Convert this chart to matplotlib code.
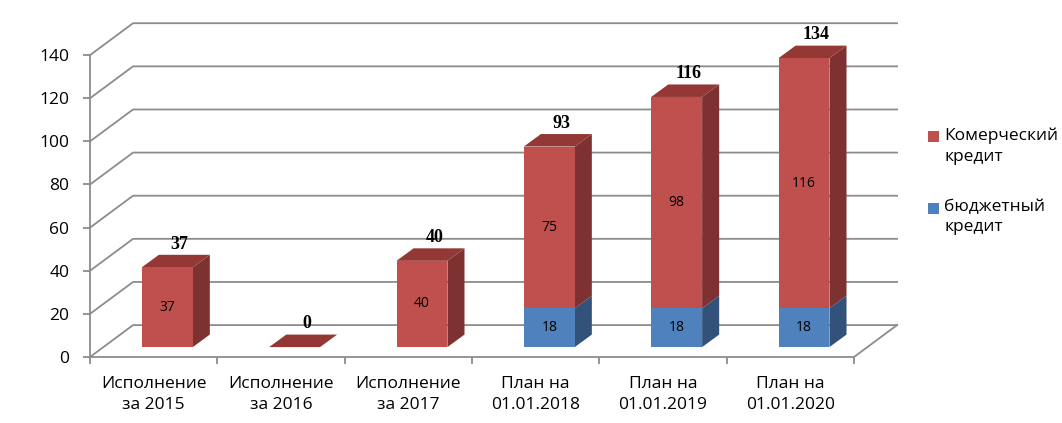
import matplotlib.pyplot as plt
from matplotlib.patches import Polygon, Rectangle

plt.rcParams['font.family'] = ['Open Sans', 'DejaVu Sans']

categories = ['Исполнение\nза 2015', 'Исполнение\nза 2016', 'Исполнение\nза 2017',
              'План на\n01.01.2018', 'План на\n01.01.2019', 'План на\n01.01.2020']
budget = [0, 0, 0, 18, 18, 18]
commercial = [37, 0, 40, 75, 98, 116]
series_names = ['Комерческий\nкредит', 'бюджетный\nкредит']

# colours (front, side, top)
red = ('#C0504D', '#7D3231', '#943836')
blue = ('#4F81BD', '#33527A', '#3D6494')
grid_c = '#8C8C8C'

# oblique "3d" offsets in data units
DX, DY = 0.338, 14.8      # full depth of the back wall
FX, FY = 0.107, 4.6       # bar front plane
BX, BY = 0.134, 5.8       # bar depth
W = 0.40

fig = plt.figure(figsize=(10.62, 4.23), dpi=100)
ax = fig.add_axes([90 / 1062, 66 / 423, 827.7 / 1062, 345 / 423])
ax.set_xlim(-0.5, 6.0)
ax.set_ylim(0, 160)

n = len(categories)
yticks = list(range(0, 141, 20))

# walls / gridlines
for v in yticks:
    ax.plot([-0.5, -0.5 + DX, n - 0.5 + DX], [v, v + DY, v + DY],
            color=grid_c, lw=1.3, zorder=1, clip_on=False)
ax.plot([n - 0.5, n - 0.5 + DX], [0, DY], color=grid_c, lw=1.3, zorder=1)


def box(xc, y0, y1, cols, top=True):
    xl = xc - W / 2 + FX
    xr = xc + W / 2 + FX
    yb, yt = y0 + FY, y1 + FY
    ax.add_patch(Polygon([(xr, yb), (xr + BX, yb + BY), (xr + BX, yt + BY), (xr, yt)],
                         closed=True, fc=cols[1], ec='none', zorder=3))
    if top:
        ax.add_patch(Polygon([(xl, yt), (xr, yt), (xr + BX, yt + BY), (xl + BX, yt + BY)],
                             closed=True, fc=cols[2], ec='none', zorder=3))
    if y1 > y0:
        ax.bar(xc + FX, y1 - y0, W, bottom=yb, color=cols[0], zorder=4)


for i in range(n):
    b = budget[i]
    c = commercial[i]
    if b > 0:
        box(i, 0, b, blue, top=False)
        ax.text(i + FX, FY + b / 2, str(b), ha='center', va='center', fontsize=10, zorder=5)
    box(i, b, b + c, red)
    if c > 0:
        ax.text(i + FX, FY + b + c / 2, str(c), ha='center', va='center', fontsize=10, zorder=5)
    tot = b + c
    ax.text(i + FX + BX / 2 + 0.03, tot + FY + BY + 5, str(tot), ha='center', va='center',
            fontsize=13, fontweight='bold', family='Liberation Serif', zorder=5)

# axes
for s in ['top', 'right']:
    ax.spines[s].set_visible(False)
ax.spines['left'].set_bounds(0, 140)
ax.spines['bottom'].set_bounds(-0.5, n - 0.5)
for s in ['left', 'bottom']:
    ax.spines[s].set_color(grid_c)
    ax.spines[s].set_linewidth(1.3)
ax.set_yticks(yticks)
ax.tick_params(axis='y', length=5, width=1.3, color=grid_c, pad=10, labelsize=12.5)
ax.set_xticks(range(n))
ax.set_xticklabels(categories, linespacing=1.35)
ax.tick_params(axis='x', length=0, pad=14, labelsize=12.5)
ax.set_xticks([i - 0.5 for i in range(n + 1)], minor=True)
ax.tick_params(axis='x', which='minor', length=5, width=1.3, color=grid_c)

# legend
for k, (name, cols) in enumerate(zip(series_names, [red, blue])):
    y = 1 - (137 + 71 * k) / 423
    fig.add_artist(Rectangle((928 / 1062, y - 5.5 / 423), 11 / 1062, 11 / 423,
                             transform=fig.transFigure, fc=cols[0], ec='none'))
    fig.text(944 / 1062, y + 9 / 423, name, ha='left', va='top', fontsize=12.5,
             linespacing=1.35)

fig.savefig('out.png')
